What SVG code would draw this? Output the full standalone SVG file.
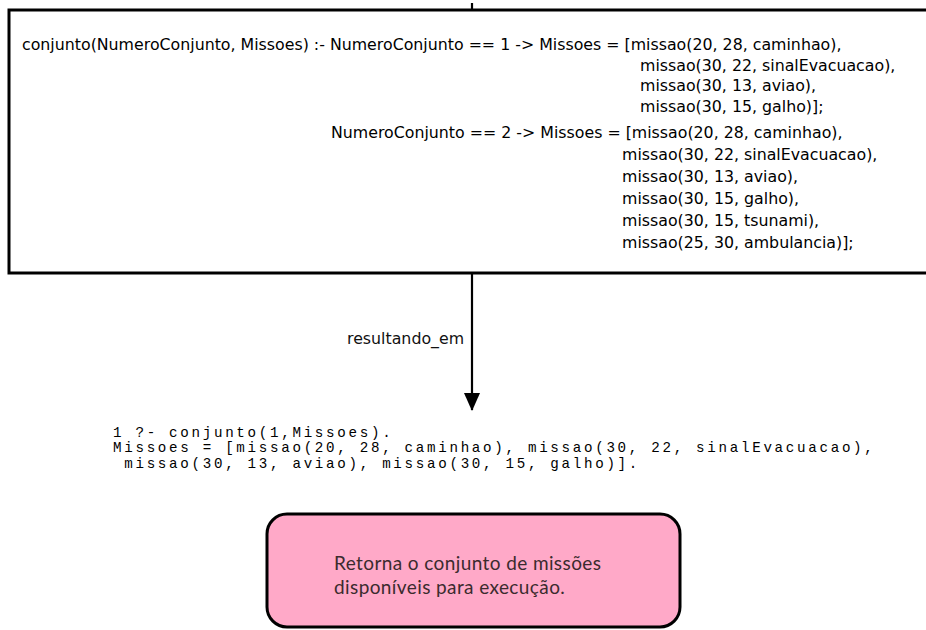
<svg xmlns="http://www.w3.org/2000/svg" width="926" height="630" viewBox="0 0 926 630">
  <style>
    .code { font-family: "DejaVu Sans", Verdana, sans-serif; font-size: 15.8px; fill: #000; }
    .mono { font-family: "Liberation Mono", "Courier New", monospace; font-size: 14.2px; letter-spacing: 2.7px; fill: #000; }
    .label { font-family: "DejaVu Sans", Verdana, sans-serif; font-size: 15.8px; fill: #111; }
    .note { font-family: Lato, "Open Sans", sans-serif; font-size: 19px; letter-spacing: 0.4px; fill: #3b2b2e; }
    .edge { stroke: #000; stroke-width: 2.2; fill: none; }
  </style>
  <defs>
    <marker id="arrowhead" markerWidth="18" markerHeight="16" refX="17" refY="8" orient="auto" markerUnits="userSpaceOnUse">
      <path d="M0,0 L18,8 L0,16 Z" fill="#000"/>
    </marker>
  </defs>
  <rect width="926" height="630" fill="#fff"/>

  <!-- predicate definition -->
  <g id="definition">
    <rect x="9" y="10" width="930" height="263" fill="#fff" stroke="#000" stroke-width="3"/>
    <text class="code" x="22" y="50">conjunto(NumeroConjunto, Missoes) :- NumeroConjunto == 1 -&gt; Missoes = [missao(20, 28, caminhao),</text>
    <text class="code" x="640" y="70.5">missao(30, 22, sinalEvacuacao),</text>
    <text class="code" x="640" y="91">missao(30, 13, aviao),</text>
    <text class="code" x="640" y="111.5">missao(30, 15, galho)];</text>
    <text class="code" x="331" y="138">NumeroConjunto == 2 -&gt; Missoes = [missao(20, 28, caminhao),</text>
    <text class="code" x="622" y="160">missao(30, 22, sinalEvacuacao),</text>
    <text class="code" x="622" y="182">missao(30, 13, aviao),</text>
    <text class="code" x="622" y="204">missao(30, 15, galho),</text>
    <text class="code" x="622" y="226">missao(30, 15, tsunami),</text>
    <text class="code" x="622" y="248">missao(25, 30, ambulancia)];</text>
  </g>

  <!-- query and answer -->
  <g id="query">
    <text class="mono" x="113" y="436.5">1 ?- conjunto(1,Missoes).</text>
    <text class="mono" x="113" y="452">Missoes = [missao(20, 28, caminhao), missao(30, 22, sinalEvacuacao),</text>
    <text class="mono" x="113" y="467.5" xml:space="preserve"> missao(30, 13, aviao), missao(30, 15, galho)].</text>
  </g>

  <!-- description -->
  <g id="description">
    <rect x="267" y="514" width="413" height="113" rx="20" ry="20" fill="#ffa9c8" stroke="#000" stroke-width="3"/>
    <text class="note" x="334" y="570">Retorna o conjunto de missões</text>
    <text class="note" x="334" y="594">disponíveis para execução.</text>
  </g>

  <!-- connectors -->
  <g id="connectors">
    <line class="edge" x1="472" y1="3" x2="472" y2="10"/>
    <line class="edge" x1="472" y1="273" x2="472" y2="410" marker-end="url(#arrowhead)"/>
    <text class="label" x="347" y="344">resultando_em</text>
  </g>
</svg>
